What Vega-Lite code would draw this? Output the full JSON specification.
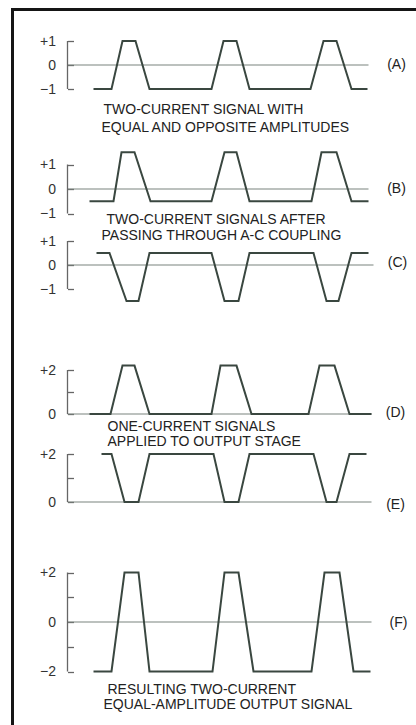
{
  "$schema": "https://vega.github.io/schema/vega-lite/v6.json",
  "background": "white",
  "padding": {"left": 9.5, "top": 5, "right": 0, "bottom": 0},
  "bounds": "flush",
  "spacing": 0,
  "datasets": {
    "A": [{"t":26,"v":-1},{"t":44,"v":-1},{"t":55,"v":1},{"t":68,"v":1},{"t":82,"v":-1},{"t":144,"v":-1},{"t":156,"v":1},{"t":169,"v":1},{"t":182,"v":-1},{"t":243,"v":-1},{"t":256,"v":1},{"t":269,"v":1},{"t":284,"v":-1},{"t":300,"v":-1}],
    "B": [{"t":22,"v":-0.5},{"t":46,"v":-0.5},{"t":54,"v":1.5},{"t":67,"v":1.5},{"t":83,"v":-0.5},{"t":144,"v":-0.5},{"t":157,"v":1.5},{"t":169,"v":1.5},{"t":182,"v":-0.5},{"t":244,"v":-0.5},{"t":254,"v":1.5},{"t":269,"v":1.5},{"t":284,"v":-0.5},{"t":301,"v":-0.5}],
    "C": [{"t":29,"v":0.5},{"t":42,"v":0.5},{"t":59,"v":-1.5},{"t":71,"v":-1.5},{"t":82,"v":0.5},{"t":144,"v":0.5},{"t":157,"v":-1.5},{"t":171,"v":-1.5},{"t":182,"v":0.5},{"t":246,"v":0.5},{"t":259,"v":-1.5},{"t":271,"v":-1.5},{"t":284,"v":0.5},{"t":301,"v":0.5}],
    "D": [{"t":22,"v":0},{"t":43,"v":0},{"t":55,"v":2.2},{"t":67,"v":2.2},{"t":82,"v":0},{"t":144,"v":0},{"t":153,"v":2.2},{"t":169,"v":2.2},{"t":184,"v":0},{"t":241,"v":0},{"t":252,"v":2.2},{"t":267,"v":2.2},{"t":282,"v":0},{"t":304,"v":0}],
    "E": [{"t":34,"v":2},{"t":44,"v":2},{"t":57,"v":0},{"t":71,"v":0},{"t":82,"v":2},{"t":146,"v":2},{"t":157,"v":0},{"t":171,"v":0},{"t":182,"v":2},{"t":246,"v":2},{"t":259,"v":0},{"t":269,"v":0},{"t":282,"v":2},{"t":299,"v":2}],
    "F": [{"t":26,"v":-2},{"t":44,"v":-2},{"t":57,"v":2},{"t":71,"v":2},{"t":82,"v":-2},{"t":145,"v":-2},{"t":157,"v":2},{"t":171,"v":2},{"t":186,"v":-2},{"t":244,"v":-2},{"t":257,"v":2},{"t":272,"v":2},{"t":286,"v":-2},{"t":303,"v":-2}],
    "one": [{}]
  },
  "vconcat": [
    {
      "width": 300, "height": 135,
      "layer": [
        {"data": {"name": "one"}, "mark": {"type": "rule", "stroke": "#151515", "strokeWidth": 3}, "encoding": {"x": {"datum": -55, "type": "quantitative", "scale": {"domain": [0, 300], "nice": false, "zero": false}, "axis": null}, "y": {"datum": 2.375, "type": "quantitative", "scale": {"domain": [-3.125, 2.5], "nice": false, "zero": false}, "axis": {"values": [-1, 0, 1], "title": null, "labelExpr": "datum.value > 0 ? '+1' : (datum.value < 0 ? '\u22121' : '0')"}}, "y2": {"datum": -3.125}}},
        {"data": {"name": "one"}, "mark": {"type": "rule", "stroke": "#151515", "strokeWidth": 3}, "encoding": {"x": {"datum": -56.5, "type": "quantitative", "axis": null}, "x2": {"datum": 352}, "y": {"datum": 2.3125, "type": "quantitative"}}},
        {"data": {"name": "one"}, "mark": {"type": "rule", "stroke": "#7a837e", "strokeWidth": 1.2}, "encoding": {"x": {"datum": 0, "type": "quantitative", "axis": null}, "x2": {"datum": 301}, "y": {"datum": 0, "type": "quantitative"}}},
        {"data": {"name": "one"}, "mark": {"type": "rule", "stroke": "#666", "strokeWidth": 1.3}, "encoding": {"x": {"datum": 0, "type": "quantitative", "axis": null}, "y": {"datum": -1, "type": "quantitative"}, "y2": {"datum": 1}}},
        {"data": {"name": "A"}, "mark": {"type": "line", "stroke": "#3a4740", "strokeWidth": 2}, "encoding": {"x": {"field": "t", "type": "quantitative", "axis": null}, "y": {"field": "v", "type": "quantitative"}}},
        {"data": {"name": "one"}, "mark": {"type": "text", "text": "(A)", "align": "center", "baseline": "middle"}, "encoding": {"x": {"datum": 329, "type": "quantitative", "axis": null}, "y": {"datum": 0, "type": "quantitative"}}},
        {"data": {"name": "one"}, "mark": {"type": "text", "text": "TWO-CURRENT SIGNAL WITH", "align": "left", "baseline": "middle"}, "encoding": {"x": {"datum": 36, "type": "quantitative", "axis": null}, "y": {"datum": -1.875, "type": "quantitative"}}},
        {"data": {"name": "one"}, "mark": {"type": "text", "text": "EQUAL AND OPPOSITE AMPLITUDES", "align": "left", "baseline": "middle"}, "encoding": {"x": {"datum": 34, "type": "quantitative", "axis": null}, "y": {"datum": -2.625, "type": "quantitative"}}}
      ]
    },
    {
      "width": 300, "height": 98,
      "layer": [
        {"data": {"name": "one"}, "mark": {"type": "rule", "stroke": "#151515", "strokeWidth": 3}, "encoding": {"x": {"datum": -55, "type": "quantitative", "scale": {"domain": [0, 300], "nice": false, "zero": false}, "axis": null}, "y": {"datum": 2, "type": "quantitative", "scale": {"domain": [-2, 2], "nice": false, "zero": false}, "axis": {"values": [-1, 0, 1], "title": null, "labelExpr": "datum.value > 0 ? '+1' : (datum.value < 0 ? '\u22121' : '0')"}}, "y2": {"datum": -2}}},
        {"data": {"name": "one"}, "mark": {"type": "rule", "stroke": "#7a837e", "strokeWidth": 1.2}, "encoding": {"x": {"datum": 0, "type": "quantitative", "axis": null}, "x2": {"datum": 301}, "y": {"datum": 0, "type": "quantitative"}}},
        {"data": {"name": "one"}, "mark": {"type": "rule", "stroke": "#666", "strokeWidth": 1.3}, "encoding": {"x": {"datum": 0, "type": "quantitative", "axis": null}, "y": {"datum": -1, "type": "quantitative"}, "y2": {"datum": 1}}},
        {"data": {"name": "B"}, "mark": {"type": "line", "stroke": "#3a4740", "strokeWidth": 2}, "encoding": {"x": {"field": "t", "type": "quantitative", "axis": null}, "y": {"field": "v", "type": "quantitative"}}},
        {"data": {"name": "one"}, "mark": {"type": "text", "text": "(B)", "align": "center", "baseline": "middle"}, "encoding": {"x": {"datum": 329, "type": "quantitative", "axis": null}, "y": {"datum": 0, "type": "quantitative"}}},
        {"data": {"name": "one"}, "mark": {"type": "text", "text": "TWO-CURRENT SIGNALS AFTER", "align": "left", "baseline": "middle"}, "encoding": {"x": {"datum": 39, "type": "quantitative", "axis": null}, "y": {"datum": -1.265, "type": "quantitative"}}},
        {"data": {"name": "one"}, "mark": {"type": "text", "text": "PASSING THROUGH A-C COUPLING", "align": "left", "baseline": "middle"}, "encoding": {"x": {"datum": 34, "type": "quantitative", "axis": null}, "y": {"datum": -1.918, "type": "quantitative"}}}
      ]
    },
    {
      "width": 300, "height": 105,
      "layer": [
        {"data": {"name": "one"}, "mark": {"type": "rule", "stroke": "#151515", "strokeWidth": 3}, "encoding": {"x": {"datum": -55, "type": "quantitative", "scale": {"domain": [0, 300], "nice": false, "zero": false}, "axis": null}, "y": {"datum": 1.125, "type": "quantitative", "scale": {"domain": [-3.25, 1.125], "nice": false, "zero": false}, "axis": {"values": [-1, 0, 1], "title": null, "labelExpr": "datum.value > 0 ? '+1' : (datum.value < 0 ? '\u22121' : '0')"}}, "y2": {"datum": -3.25}}},
        {"data": {"name": "one"}, "mark": {"type": "rule", "stroke": "#7a837e", "strokeWidth": 1.2}, "encoding": {"x": {"datum": 0, "type": "quantitative", "axis": null}, "x2": {"datum": 306}, "y": {"datum": 0, "type": "quantitative"}}},
        {"data": {"name": "one"}, "mark": {"type": "rule", "stroke": "#666", "strokeWidth": 1.3}, "encoding": {"x": {"datum": 0, "type": "quantitative", "axis": null}, "y": {"datum": -1, "type": "quantitative"}, "y2": {"datum": 1}}},
        {"data": {"name": "C"}, "mark": {"type": "line", "stroke": "#3a4740", "strokeWidth": 2}, "encoding": {"x": {"field": "t", "type": "quantitative", "axis": null}, "y": {"field": "v", "type": "quantitative"}}},
        {"data": {"name": "one"}, "mark": {"type": "text", "text": "(C)", "align": "center", "baseline": "middle"}, "encoding": {"x": {"datum": 330, "type": "quantitative", "axis": null}, "y": {"datum": 0.08, "type": "quantitative"}}}
      ]
    },
    {
      "width": 300, "height": 90,
      "layer": [
        {"data": {"name": "one"}, "mark": {"type": "rule", "stroke": "#151515", "strokeWidth": 3}, "encoding": {"x": {"datum": -55, "type": "quantitative", "scale": {"domain": [0, 300], "nice": false, "zero": false}, "axis": null}, "y": {"datum": 3.227273, "type": "quantitative", "scale": {"domain": [-0.863636, 3.227273], "nice": false, "zero": false}, "axis": {"values": [0, 1, 2], "title": null, "labelExpr": "datum.value == 2 ? '+2' : (datum.value == 0 ? '0' : '')"}}, "y2": {"datum": -0.863636}}},
        {"data": {"name": "one"}, "mark": {"type": "rule", "stroke": "#7a837e", "strokeWidth": 1.2}, "encoding": {"x": {"datum": 0, "type": "quantitative", "axis": null}, "x2": {"datum": 304}, "y": {"datum": 0, "type": "quantitative"}}},
        {"data": {"name": "one"}, "mark": {"type": "rule", "stroke": "#666", "strokeWidth": 1.3}, "encoding": {"x": {"datum": 0, "type": "quantitative", "axis": null}, "y": {"datum": 0, "type": "quantitative"}, "y2": {"datum": 2}}},
        {"data": {"name": "D"}, "mark": {"type": "line", "stroke": "#3a4740", "strokeWidth": 2}, "encoding": {"x": {"field": "t", "type": "quantitative", "axis": null}, "y": {"field": "v", "type": "quantitative"}}},
        {"data": {"name": "one"}, "mark": {"type": "text", "text": "(D)", "align": "center", "baseline": "middle"}, "encoding": {"x": {"datum": 328, "type": "quantitative", "axis": null}, "y": {"datum": 0.05, "type": "quantitative"}}},
        {"data": {"name": "one"}, "mark": {"type": "text", "text": "ONE-CURRENT SIGNALS", "align": "left", "baseline": "middle"}, "encoding": {"x": {"datum": 40, "type": "quantitative", "axis": null}, "y": {"datum": -0.59, "type": "quantitative"}}},
        {"data": {"name": "one"}, "mark": {"type": "text", "text": "APPLIED TO OUTPUT STAGE", "align": "left", "baseline": "middle"}, "encoding": {"x": {"datum": 40, "type": "quantitative", "axis": null}, "y": {"datum": -1.27, "type": "quantitative"}}}
      ]
    },
    {
      "width": 300, "height": 102,
      "layer": [
        {"data": {"name": "one"}, "mark": {"type": "rule", "stroke": "#151515", "strokeWidth": 3}, "encoding": {"x": {"datum": -55, "type": "quantitative", "scale": {"domain": [0, 300], "nice": false, "zero": false}, "axis": null}, "y": {"datum": 2.875, "type": "quantitative", "scale": {"domain": [-1.375, 2.875], "nice": false, "zero": false}, "axis": {"values": [0, 1, 2], "title": null, "labelExpr": "datum.value == 2 ? '+2' : (datum.value == 0 ? '0' : '')"}}, "y2": {"datum": -1.375}}},
        {"data": {"name": "one"}, "mark": {"type": "rule", "stroke": "#7a837e", "strokeWidth": 1.2}, "encoding": {"x": {"datum": 0, "type": "quantitative", "axis": null}, "x2": {"datum": 304}, "y": {"datum": 0, "type": "quantitative"}}},
        {"data": {"name": "one"}, "mark": {"type": "rule", "stroke": "#666", "strokeWidth": 1.3}, "encoding": {"x": {"datum": 0, "type": "quantitative", "axis": null}, "y": {"datum": 0, "type": "quantitative"}, "y2": {"datum": 2}}},
        {"data": {"name": "E"}, "mark": {"type": "line", "stroke": "#3a4740", "strokeWidth": 2}, "encoding": {"x": {"field": "t", "type": "quantitative", "axis": null}, "y": {"field": "v", "type": "quantitative"}}},
        {"data": {"name": "one"}, "mark": {"type": "text", "text": "(E)", "align": "center", "baseline": "middle"}, "encoding": {"x": {"datum": 328, "type": "quantitative", "axis": null}, "y": {"datum": -0.12, "type": "quantitative"}}}
      ]
    },
    {
      "width": 300, "height": 190,
      "layer": [
        {"data": {"name": "one"}, "mark": {"type": "rule", "stroke": "#151515", "strokeWidth": 3}, "encoding": {"x": {"datum": -55, "type": "quantitative", "scale": {"domain": [0, 300], "nice": false, "zero": false}, "axis": null}, "y": {"datum": 3.515152, "type": "quantitative", "scale": {"domain": [-4.161616, 3.515152], "nice": false, "zero": false}, "axis": {"values": [-2, -1, 0, 1, 2], "title": null, "labelExpr": "datum.value == 2 ? '+2' : (datum.value == -2 ? '\u22122' : (datum.value == 0 ? '0' : ''))"}}, "y2": {"datum": -4.161616}}},
        {"data": {"name": "one"}, "mark": {"type": "rule", "stroke": "#7a837e", "strokeWidth": 1.2}, "encoding": {"x": {"datum": 0, "type": "quantitative", "axis": null}, "x2": {"datum": 304}, "y": {"datum": 0, "type": "quantitative"}}},
        {"data": {"name": "one"}, "mark": {"type": "rule", "stroke": "#666", "strokeWidth": 1.3}, "encoding": {"x": {"datum": 0, "type": "quantitative", "axis": null}, "y": {"datum": -2, "type": "quantitative"}, "y2": {"datum": 2}}},
        {"data": {"name": "F"}, "mark": {"type": "line", "stroke": "#3a4740", "strokeWidth": 2}, "encoding": {"x": {"field": "t", "type": "quantitative", "axis": null}, "y": {"field": "v", "type": "quantitative"}}},
        {"data": {"name": "one"}, "mark": {"type": "text", "text": "(F)", "align": "center", "baseline": "middle"}, "encoding": {"x": {"datum": 331, "type": "quantitative", "axis": null}, "y": {"datum": -0.04, "type": "quantitative"}}},
        {"data": {"name": "one"}, "mark": {"type": "text", "text": "RESULTING TWO-CURRENT", "align": "left", "baseline": "middle"}, "encoding": {"x": {"datum": 40, "type": "quantitative", "axis": null}, "y": {"datum": -2.747, "type": "quantitative"}}},
        {"data": {"name": "one"}, "mark": {"type": "text", "text": "EQUAL-AMPLITUDE OUTPUT SIGNAL", "align": "left", "baseline": "middle"}, "encoding": {"x": {"datum": 36, "type": "quantitative", "axis": null}, "y": {"datum": -3.354, "type": "quantitative"}}}
      ]
    }
  ],
  "config": {
    "view": {"stroke": null},
    "text": {"font": "Liberation Sans", "fontSize": 14, "fill": "#222"},
    "axisY": {
      "domain": false,
      "grid": false,
      "tickSize": -6,
      "tickColor": "#666",
      "tickWidth": 1.3,
      "labelFont": "Liberation Sans",
      "labelFontSize": 14,
      "labelColor": "#333",
      "labelPadding": 18,
      "labelOverlap": false
    }
  }
}
